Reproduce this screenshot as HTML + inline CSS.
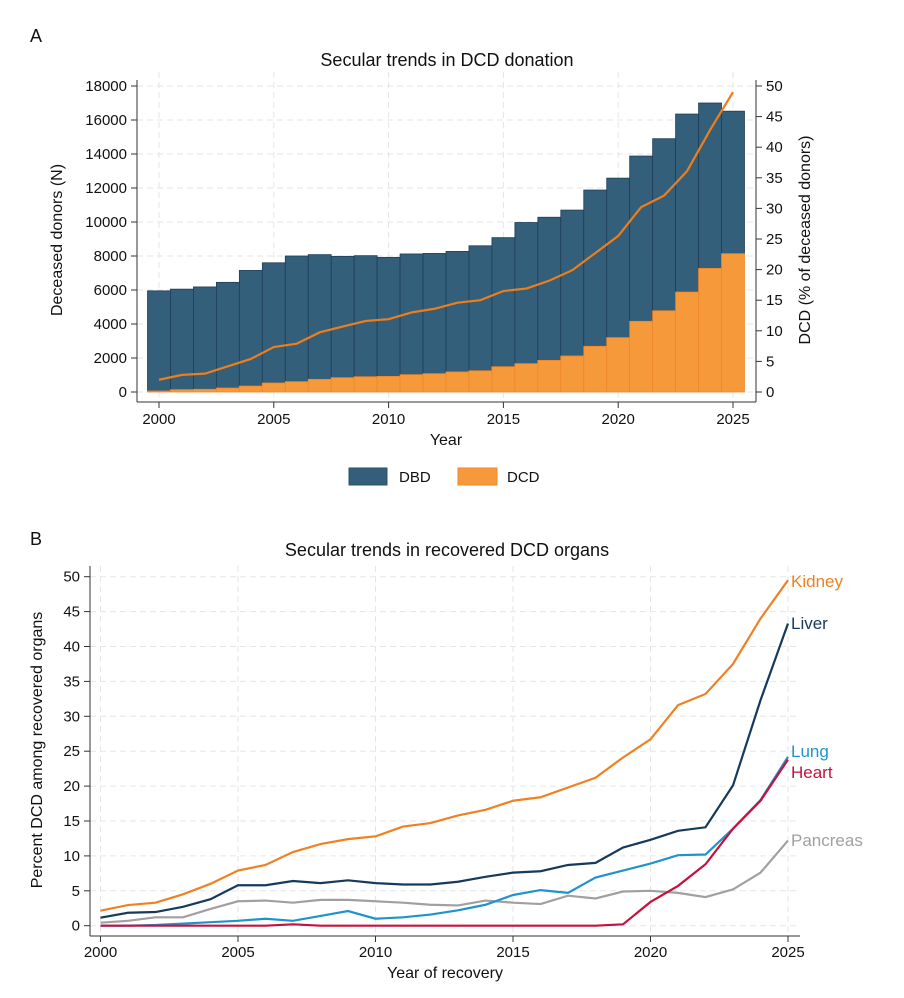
<!DOCTYPE html>
<html><head><meta charset="utf-8"><style>
body{margin:0;background:#fff;}
svg{display:block;font-family:"Liberation Sans",sans-serif;}
</style></head><body>
<svg id="svg" width="904" height="998" viewBox="0 0 904 998" xmlns="http://www.w3.org/2000/svg">
<text x="30" y="42" font-size="18" fill="#111">A</text>
<text x="447" y="66" font-size="18" text-anchor="middle" fill="#111">Secular trends in DCD donation</text>
<g id="ga"></g>
<text transform="translate(62,240) rotate(-90)" font-size="16" text-anchor="middle" fill="#111">Deceased donors (N)</text>
<text transform="translate(810,240) rotate(-90)" font-size="16" text-anchor="middle" fill="#111">DCD (% of deceased donors)</text>
<text x="446" y="445" font-size="16" text-anchor="middle" fill="#111">Year</text>
<g>
<rect x="349" y="468" width="38" height="17" fill="#335f7a" stroke="#2a4f68"/>
<text x="399" y="482" font-size="15" fill="#111">DBD</text>
<rect x="458" y="468" width="39" height="17" fill="#f5993a" stroke="#f0862a"/>
<text x="507" y="482" font-size="15" fill="#111">DCD</text>
</g>
<text x="30" y="545" font-size="18" fill="#111">B</text>
<text x="447" y="556" font-size="18" text-anchor="middle" fill="#111">Secular trends in recovered DCD organs</text>
<g id="gb"></g>
<text transform="translate(42,750) rotate(-90)" font-size="16" text-anchor="middle" fill="#111">Percent DCD among recovered organs</text>
<text x="445" y="978" font-size="16" text-anchor="middle" fill="#111">Year of recovery</text>
</svg>
<script>
const years=[2000,2001,2002,2003,2004,2005,2006,2007,2008,2009,2010,2011,2012,2013,2014,2015,2016,2017,2018,2019,2020,2021,2022,2023,2024,2025];
const totalDonors=[5950,6050,6180,6450,7150,7600,8000,8080,7980,8020,7920,8120,8150,8270,8600,9080,9970,10280,10700,11880,12580,13880,14900,16350,17000,16520];
const dcdDonors=[60,140,160,235,350,530,610,745,845,900,920,1020,1080,1180,1250,1490,1670,1860,2120,2690,3200,4160,4780,5880,7270,8140];
const dcdPct=[2.0,2.8,3.0,4.2,5.4,7.35,7.9,9.75,10.7,11.6,11.9,13.0,13.6,14.6,15.0,16.5,16.9,18.2,19.9,22.7,25.5,30.2,32.1,36.1,42.8,49.0];
const leftTicks=[0,2000,4000,6000,8000,10000,12000,14000,16000,18000];
const rightTicks=[0,5,10,15,20,25,30,35,40,45,50];
const xTicksA=[2000,2005,2010,2015,2020,2025];
const organs=["Kidney","Liver","Lung","Heart","Pancreas"];
const kidney=[2.15,2.96,3.3,4.5,6.0,7.9,8.7,10.55,11.7,12.4,12.8,14.2,14.7,15.8,16.6,17.9,18.4,19.8,21.2,24.1,26.7,31.6,33.2,37.5,44.0,49.5];
const liver=[1.15,1.86,1.96,2.7,3.8,5.8,5.8,6.4,6.1,6.5,6.1,5.9,5.9,6.3,7.0,7.6,7.8,8.7,9.0,11.2,12.3,13.6,14.1,20.1,32.3,43.3];
const lung=[0,0,0.1,0.3,0.5,0.7,1.0,0.7,1.4,2.1,1.0,1.2,1.6,2.2,3.0,4.4,5.1,4.7,6.9,7.9,8.9,10.1,10.2,13.9,18.0,24.2];
const heart=[0,0,0,0,0,0,0,0.2,0,0,0,0,0,0,0,0,0,0,0,0.2,3.4,5.7,8.8,13.9,17.9,23.8];
const pancreas=[0.43,0.7,1.2,1.2,2.4,3.5,3.6,3.3,3.7,3.7,3.5,3.3,3.0,2.9,3.6,3.3,3.1,4.3,3.9,4.9,5.0,4.7,4.1,5.2,7.6,12.2];
const yTicksB=[0,5,10,15,20,25,30,35,40,45,50];
const xTicksB=[2000,2005,2010,2015,2020,2025];

const NS="http://www.w3.org/2000/svg";
function mk(p,t,a){const e=document.createElementNS(NS,t);for(const k in a)e.setAttribute(k,a[k]);p.appendChild(e);return e;}
// Chart A
const ga=document.getElementById('ga');
const xa=y=>159+(y-2000)*22.96;
const yl=v=>392-v*(306/18000);
const yr=v=>392-v*(306/50);
mk(ga,'rect',{x:137,y:72,width:619,height:330,fill:'#fff'});
leftTicks.forEach(t=>{const l=mk(ga,'line',{x1:137,x2:756,y1:yl(t),y2:yl(t),stroke:'#e6e6e6','stroke-dasharray':'6,4'});

});
xTicksA.forEach(t=>{const l=mk(ga,'line',{x1:xa(t),x2:xa(t),y1:72,y2:402,stroke:'#e6e6e6','stroke-dasharray':'6,4'});

});
const bw=22.96;
years.forEach((yv,i)=>{
 const b=mk(ga,'rect',{x:xa(yv)-bw/2,y:yl(totalDonors[i]),width:bw,height:yl(dcdDonors[i])-yl(totalDonors[i]),fill:'#335f7a',stroke:'#1f3e58','stroke-width':0.8});
 
 
 const c=mk(ga,'rect',{x:xa(yv)-bw/2,y:yl(dcdDonors[i]),width:bw,height:yl(0)-yl(dcdDonors[i]),fill:'#f5993a',stroke:'#f0862a','stroke-width':0.8});
 
 
});
const pl=mk(ga,'polyline',{points:years.map((yv,i)=>xa(yv)+','+yr(dcdPct[i])).join(' '),fill:'none',stroke:'#ef7d1a','stroke-width':2.2});


mk(ga,'line',{x1:137,x2:137,y1:80,y2:402,stroke:'#333'});
mk(ga,'line',{x1:756,x2:756,y1:80,y2:402,stroke:'#333'});
mk(ga,'line',{x1:137,x2:756,y1:402,y2:402,stroke:'#333'});
leftTicks.forEach(t=>{mk(ga,'line',{x1:131,x2:137,y1:yl(t),y2:yl(t),stroke:'#333'});
 const tx=mk(ga,'text',{x:127,y:yl(t)+5,'font-size':15,'text-anchor':'end',fill:'#111'});tx.textContent=t;
 
 });
rightTicks.forEach(t=>{mk(ga,'line',{x1:756,x2:762,y1:yr(t),y2:yr(t),stroke:'#333'});
 const tx=mk(ga,'text',{x:766,y:yr(t)+5,'font-size':15,fill:'#111'});tx.textContent=t;
 
 });
xTicksA.forEach(t=>{mk(ga,'line',{x1:xa(t),x2:xa(t),y1:402,y2:408,stroke:'#333'});
 const tx=mk(ga,'text',{x:xa(t),y:424,'font-size':15,'text-anchor':'middle',fill:'#111'});tx.textContent=t;
 
 });
// Chart B
const gb=document.getElementById('gb');
const xb=y=>100.5+(y-2000)*27.5;
const yb=v=>925.7-v*6.98;
yTicksB.forEach(t=>{const l=mk(gb,'line',{x1:90,x2:800,y1:yb(t),y2:yb(t),stroke:'#e6e6e6','stroke-dasharray':'6,4'});

});
xTicksB.forEach(t=>{const l=mk(gb,'line',{x1:xb(t),x2:xb(t),y1:566,y2:936,stroke:'#e6e6e6','stroke-dasharray':'6,4'});

});
const series=[pancreas,lung,heart,liver,kidney];
const snames=["Pancreas","Lung","Heart","Liver","Kidney"];
const cols={Kidney:'#f08122',Liver:'#163a5c',Lung:'#1f94cc',Heart:'#c8103e',Pancreas:'#a0a0a0'};
const labY={Kidney:587,Liver:629,Lung:757,Heart:778,Pancreas:846};
series.forEach((s,k)=>{const n=snames[k];
 const p=mk(gb,'polyline',{points:years.map((yv,i)=>xb(yv)+','+yb(s[i])).join(' '),fill:'none',stroke:cols[n],'stroke-width':2.2});
 
 
});
organs.forEach(n=>{const t=mk(gb,'text',{x:791,y:labY[n],'font-size':17,fill:cols[n]});t.textContent=n;
 
 });
mk(gb,'line',{x1:90,x2:90,y1:566,y2:936,stroke:'#333'});
mk(gb,'line',{x1:90,x2:800,y1:936,y2:936,stroke:'#333'});
yTicksB.forEach(t=>{mk(gb,'line',{x1:84,x2:90,y1:yb(t),y2:yb(t),stroke:'#333'});
 const tx=mk(gb,'text',{x:80,y:yb(t)+5,'font-size':15,'text-anchor':'end',fill:'#111'});tx.textContent=t;
 
 });
xTicksB.forEach(t=>{mk(gb,'line',{x1:xb(t),x2:xb(t),y1:936,y2:942,stroke:'#333'});
 const tx=mk(gb,'text',{x:xb(t),y:957,'font-size':15,'text-anchor':'middle',fill:'#111'});tx.textContent=t;
 
 });
</script>
</body></html>
